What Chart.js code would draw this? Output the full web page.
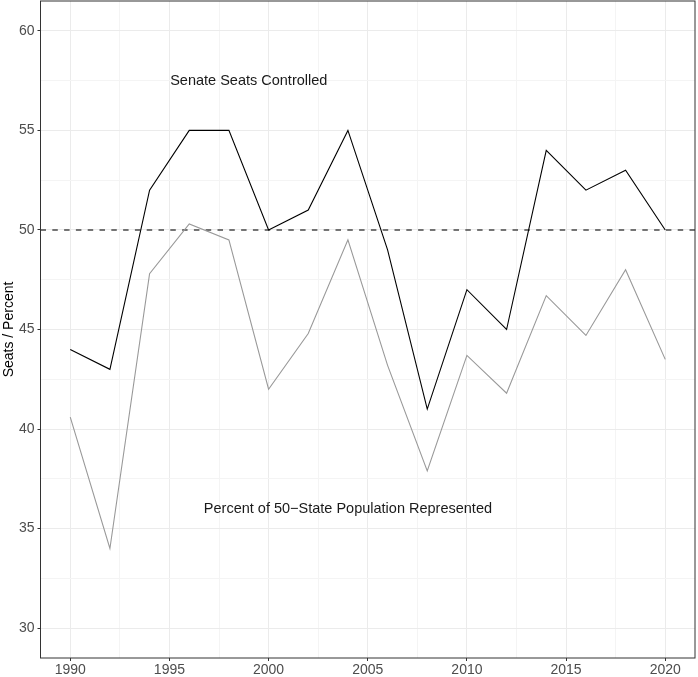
<!DOCTYPE html>
<html>
<head>
<meta charset="utf-8">
<script src="https://cdn.jsdelivr.net/npm/chart.js@4.4.1/dist/chart.umd.min.js"></script>
<style>
    html, body { margin: 0; padding: 0; background: #fff; }
    #wrap { width: 698px; height: 677px; }
</style>
</head>
<body>
<div id="wrap"><canvas id="myChart" width="698" height="677"></canvas></div>
<script>
// Election years
const years = [1990, 1992, 1994, 1996, 1998, 2000, 2002, 2004, 2006, 2008, 2010, 2012, 2014, 2016, 2018, 2020];

// Senate seats controlled
const seats = [44, 43, 52, 55, 55, 50, 51, 55, 49, 41, 47, 45, 54, 52, 53, 50];

// Percent of 50-state population represented
const popShare = [40.6, 34.0, 47.8, 50.3, 49.5, 42.0, 44.8, 49.5, 43.2, 37.9, 43.7, 41.8, 46.7, 44.7, 48.0, 43.5];

// Reference line (majority)
const refLine = 50;

// Axis ticks (major + minor)
const xTicks = [1990, 1992.5, 1995, 1997.5, 2000, 2002.5, 2005, 2007.5, 2010, 2012.5, 2015, 2017.5, 2020];
const xMajor = [1990, 1995, 2000, 2005, 2010, 2015, 2020];
const yTicks = [30, 32.5, 35, 37.5, 40, 42.5, 45, 47.5, 50, 52.5, 55, 57.5, 60];
const yMajor = [30, 35, 40, 45, 50, 55, 60];

// Text labels in the panel
const labelTexts = ["Senate Seats Controlled", "Percent of 50\u2212State Population Represented"];
const labelX = [1999, 2004];
const labelY = [57.5, 36];

const FONT = "'Liberation Sans', Arial, Helvetica, sans-serif";

// petit plugin : ligne pointillée, textes et cadre du panneau
const extras = {
    id: 'extras',
    beforeDatasetsDraw(chart) {
        const { ctx, chartArea, scales } = chart;
        const y = scales.y.getPixelForValue(refLine);
        ctx.save();
        ctx.strokeStyle = '#4a4a4a';
        ctx.lineWidth = 1.5;
        ctx.setLineDash([5.5, 6.3]);
        ctx.beginPath();
        ctx.moveTo(chartArea.left, y);
        ctx.lineTo(chartArea.right, y);
        ctx.stroke();
        ctx.restore();
    },
    afterDraw(chart) {
        const { ctx, chartArea, scales } = chart;
        ctx.save();
        ctx.fillStyle = '#1a1a1a';
        ctx.font = '14.5px ' + FONT;
        ctx.textAlign = 'center';
        ctx.textBaseline = 'middle';
        for (let i = 0; i < labelTexts.length; i++) {
            ctx.fillText(labelTexts[i], scales.x.getPixelForValue(labelX[i]), scales.y.getPixelForValue(labelY[i]));
        }
        ctx.strokeStyle = '#333333';
        ctx.lineWidth = 1;
        ctx.strokeRect(chartArea.left, chartArea.top, chartArea.right - chartArea.left, chartArea.bottom - chartArea.top);
        ctx.restore();
    }
};

const ctx = document.getElementById('myChart').getContext('2d');

let data = {
    datasets: [{
        label: "Seats",
        data: years.map((yr, i) => ({ x: yr, y: seats[i] })),
        borderColor: '#000000',
        borderWidth: 1.1,
        pointRadius: 0,
        tension: 0,
    }, {
        label: "Population",
        data: years.map((yr, i) => ({ x: yr, y: popShare[i] })),
        borderColor: '#999999',
        borderWidth: 1.1,
        pointRadius: 0,
        tension: 0,
    }]
};

const gridOpts = (major) => ({
    color: (c) => major.includes(c.tick && c.tick.value) ? '#ebebeb' : '#f4f4f4',
    lineWidth: 1,
    tickLength: 3,
    tickColor: (c) => major.includes(c.tick && c.tick.value) ? '#333333' : 'rgba(0,0,0,0)',
    tickWidth: 1,
});

let options = {
    responsive: false,
    animation: false,
    layout: { padding: { top: 1, right: 3, left: 1, bottom: 0 } },
    plugins: {
        legend: { display: false },
        tooltip: { enabled: false },
    },
    scales: {
        x: {
            type: 'linear',
            min: 1988.5,
            max: 2021.5,
            afterBuildTicks: (scale) => { scale.ticks = xTicks.map(v => ({ value: v })); },
            afterFit: (scale) => { scale.height = 19; scale.paddingLeft = 0; scale.paddingRight = 0; },
            border: { display: false },
            grid: gridOpts(xMajor),
            ticks: {
                autoSkip: false,
                maxRotation: 0,
                padding: 1,
                color: '#4d4d4d',
                font: { family: FONT, size: 14 },
                callback: (v) => xMajor.includes(v) ? String(v) : '',
            }
        },
        y: {
            type: 'linear',
            min: 28.5,
            max: 61.5,
            afterBuildTicks: (scale) => { scale.ticks = yTicks.map(v => ({ value: v })); },
            afterFit: (scale) => { scale.width = 39.5; scale.paddingTop = 0; scale.paddingBottom = 0; },
            border: { display: false },
            grid: gridOpts(yMajor),
            title: {
                display: true,
                text: 'Seats / Percent',
                color: '#000000',
                font: { family: FONT, size: 14 },
                padding: { top: 0, bottom: 1 },
            },
            ticks: {
                autoSkip: false,
                padding: 3,
                color: '#4d4d4d',
                font: { family: FONT, size: 14 },
                callback: (v) => yMajor.includes(v) ? String(v) : '',
            }
        }
    }
};

let graphic = new Chart(ctx, { type: 'line', data: data, options: options, plugins: [extras] });
</script>
</body>
</html>
